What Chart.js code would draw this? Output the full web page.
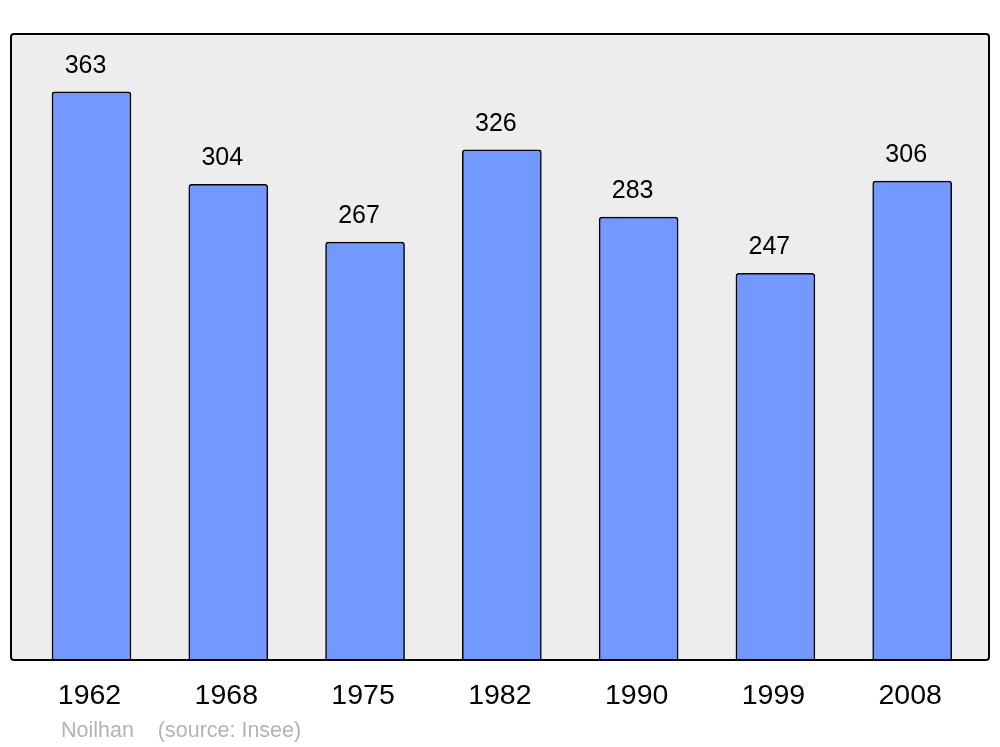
<!DOCTYPE html>
<html>
<head>
<meta charset="utf-8">
<script src="https://cdn.jsdelivr.net/npm/chart.js@4/dist/chart.umd.min.js"></script>
<style>
  html, body { margin: 0; padding: 0; background: #fff; }
  #wrap { position: relative; width: 1000px; height: 747px; }
  #footer {
    position: absolute; left: 61px; top: 718px;
    font-family: "Liberation Sans", Arial, sans-serif; font-size: 21.5px; color: #b3b3b3;
    white-space: pre;
  }
</style>
</head>
<body>
<div id="wrap">
  <canvas id="chart" width="1000" height="747"></canvas>
  <div id="footer">Noilhan    (source: Insee)</div>
</div>
<script>
// Population data
const years = ['1962', '1968', '1975', '1982', '1990', '1999', '2008'];
const population = [363, 304, 267, 326, 283, 247, 306];

// grey panel with black frame behind the bars
const panelPlugin = {
  id: 'panel',
  beforeDatasetsDraw(chart) {
    const { ctx, chartArea: a } = chart;
    ctx.save();
    ctx.beginPath();
    ctx.roundRect(a.left, a.top, a.right - a.left, a.bottom - a.top, 3);
    ctx.fillStyle = '#ededed';
    ctx.fill();
    ctx.restore();
  },
  afterDatasetsDraw(chart) {
    const { ctx, chartArea: a } = chart;
    ctx.save();
    ctx.beginPath();
    ctx.roundRect(a.left, a.top, a.right - a.left, a.bottom - a.top, 3);
    ctx.lineWidth = 2;
    ctx.strokeStyle = '#000';
    ctx.stroke();
    // value labels above bars
    ctx.fillStyle = '#000';
    ctx.font = '25px "Liberation Sans", Arial, sans-serif';
    ctx.textAlign = 'center';
    ctx.textBaseline = 'middle';
    chart.getDatasetMeta(0).data.forEach((bar, i) => {
      ctx.fillText(String(population[i]), bar.x - 6, bar.y - 26);
    });
    ctx.restore();
  }
};

new Chart(document.getElementById('chart'), {
  type: 'bar',
  data: {
    datasets: [{
      data: population.map((v, i) => ({ x: i, y: v })),
      backgroundColor: '#7399ff',
      borderColor: '#000',
      borderWidth: 1.5,
      borderSkipped: 'bottom',
      borderRadius: { topLeft: 3, topRight: 3 },
      barThickness: 79
    }]
  },
  options: {
    responsive: false,
    animation: false,
    layout: { padding: { left: 11, right: 11, top: 34, bottom: 0 } },
    plugins: { legend: { display: false }, tooltip: { enabled: false } },
    scales: {
      x: {
        type: 'linear',
        offset: false,
        min: -0.5885,
        max: 6.5615,
        grid: { display: false },
        border: { display: false },
        afterBuildTicks(scale) { scale.ticks = years.map((_, i) => ({ value: i })); },
        afterFit(scale) { scale.height = 87; },
        ticks: {
          padding: 11,
          labelOffset: -2,
          color: '#000',
          font: { family: '"Liberation Sans", Arial, sans-serif', size: 28.5 },
          maxRotation: 0,
          callback: (v) => years[v]
        }
      },
      y: {
        display: false,
        min: 0,
        max: 400
      }
    }
  },
  plugins: [panelPlugin]
});
</script>
</body>
</html>
